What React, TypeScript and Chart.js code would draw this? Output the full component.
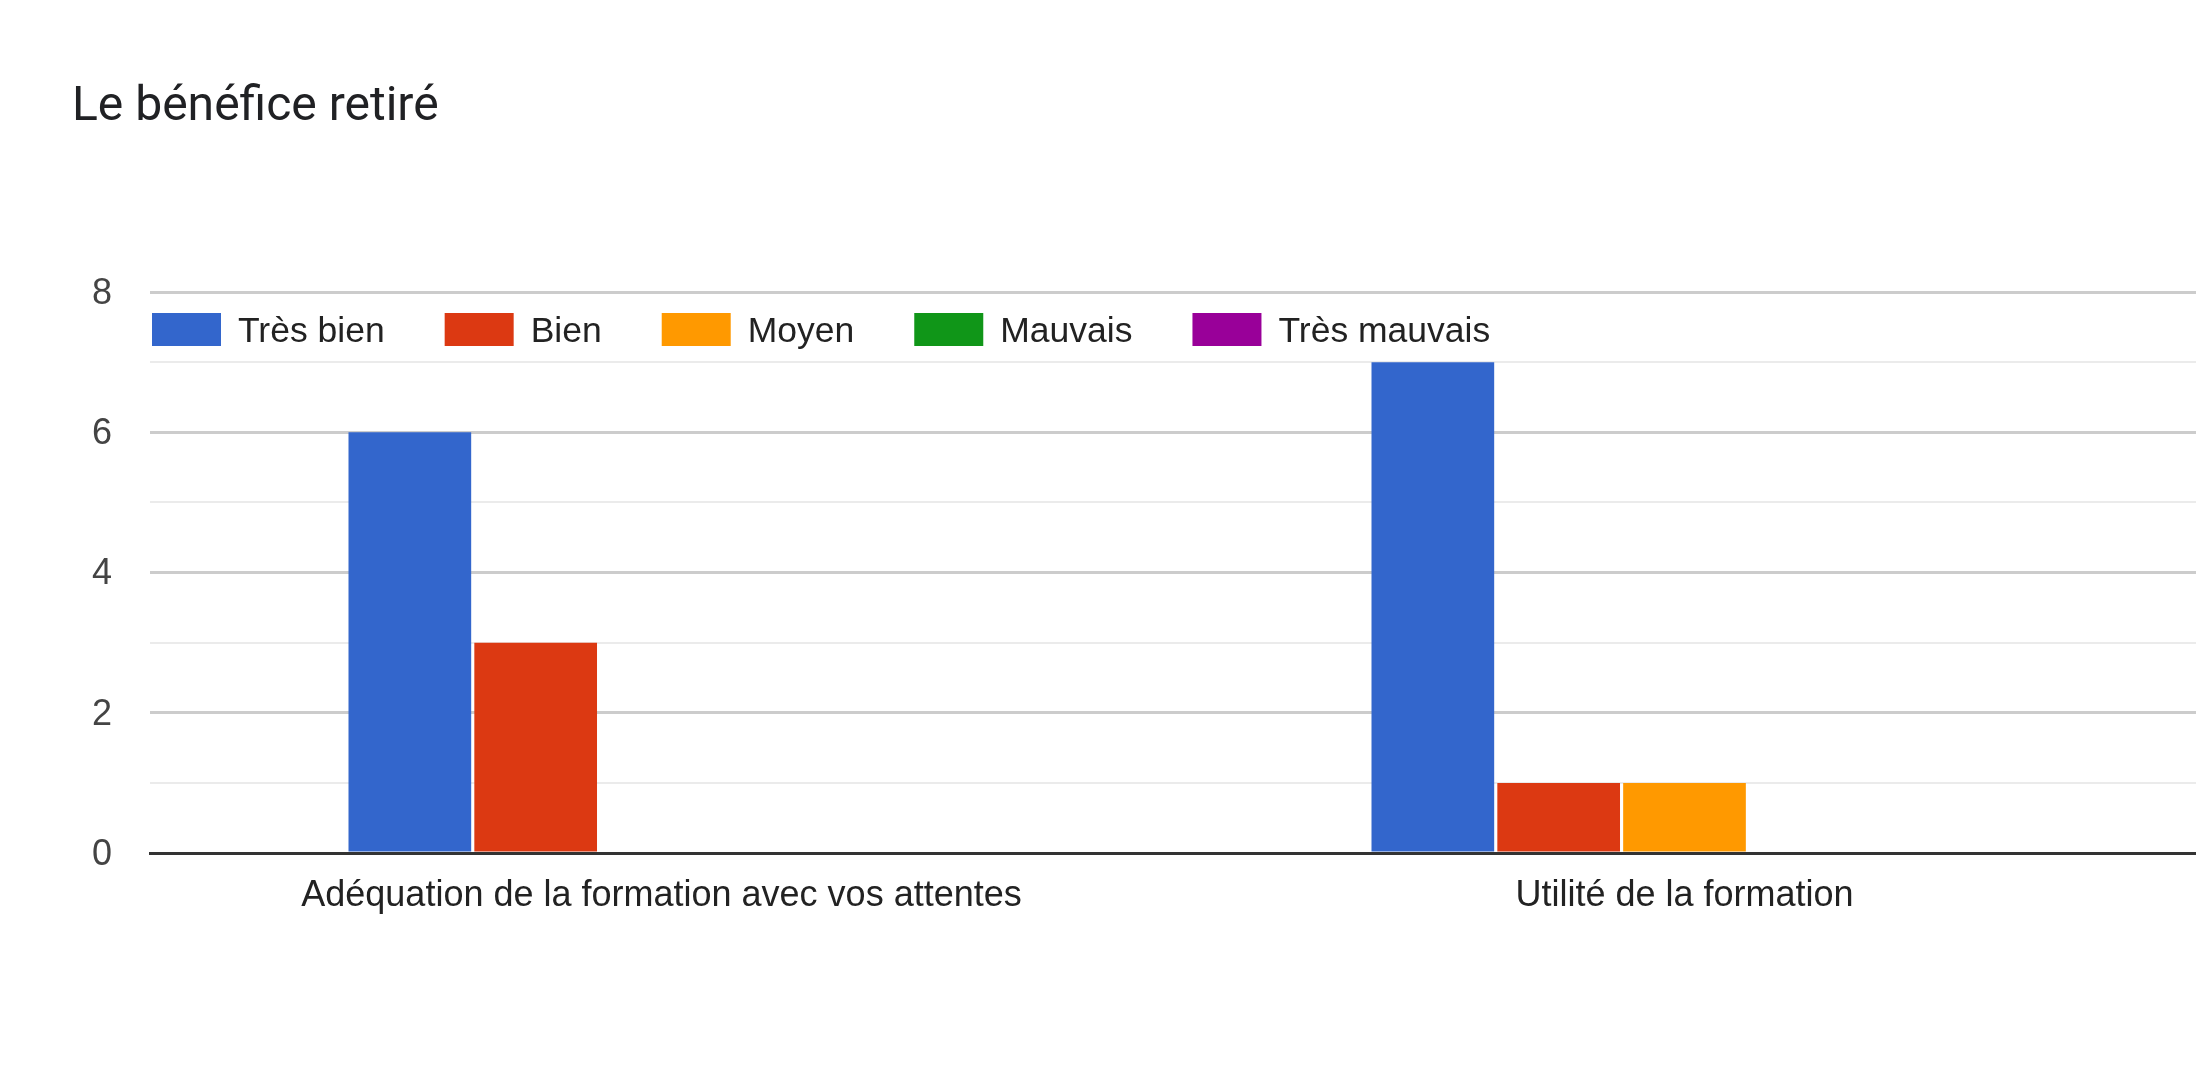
import React, { useEffect, useRef } from 'react';
import Chart from 'chart.js/auto';

// categories and answers (number of responses)
const categories = ['Adéquation de la formation avec vos attentes', 'Utilité de la formation'];
const seriesLabels = ['Très bien', 'Bien', 'Moyen', 'Mauvais', 'Très mauvais'];
const seriesColors = ['#3366cc', '#dc3912', '#ff9900', '#109618', '#990099'];
const tresBien = [6, 7];
const bien = [3, 1];
const moyen = [0, 1];
const mauvais = [0, 0];
const tresMauvais = [0, 0];
const yMax = 8;

const AXIS_FONT = '"Liberation Sans", Arial, sans-serif';

// legend drawn inside the plot, just under the top gridline
const insideLegend = {
  id: 'insideLegend',
  afterDraw(chart) {
    const { ctx, chartArea } = chart;
    ctx.save();
    ctx.font = '35.5px ' + AXIS_FONT;
    ctx.textBaseline = 'middle';
    ctx.textAlign = 'left';
    let x = chartArea.left + 2;
    const boxTop = chartArea.top + 21;
    chart.data.datasets.forEach((ds) => {
      ctx.fillStyle = ds.backgroundColor;
      ctx.fillRect(x, boxTop, 69, 33);
      ctx.fillStyle = '#222222';
      ctx.fillText(ds.label, x + 86, boxTop + 19);
      x += 86 + ctx.measureText(ds.label).width + 60;
    });
    ctx.restore();
  },
};

const App = () => {
  const chartRef = useRef(null);

  useEffect(() => {
    document.body.style.margin = '0';
    const canvas = chartRef.current;
    const values = [tresBien, bien, moyen, mauvais, tresMauvais];

    const data = {
      labels: categories,
      datasets: seriesLabels.map((label, i) => ({
        label,
        data: values[i],
        backgroundColor: seriesColors[i],
        borderWidth: 0,
        categoryPercentage: 0.615,
        barPercentage: 0.975,
      })),
    };

    const chart = new Chart(canvas, {
      type: 'bar',
      data,
      plugins: [insideLegend],
      options: {
        animation: false,
        responsive: true,
        maintainAspectRatio: false,
        devicePixelRatio: 1,
        layout: { padding: { left: 72, right: 0, top: 0, bottom: 0 } },
        plugins: {
          legend: { display: false },
          tooltip: { enabled: false },
          title: {
            display: true,
            text: 'Le bénéfice retiré',
            align: 'start',
            color: '#202124',
            font: { family: 'Roboto', size: 48, weight: 'normal' },
            padding: { top: 78.8, bottom: 155.6 },
          },
        },
        scales: {
          x: {
            grid: { display: false, drawTicks: false },
            border: { display: true, color: '#333333', width: 3 },
            ticks: {
              color: '#222222',
              padding: 21,
              font: { family: AXIS_FONT, size: 36 },
            },
            afterFit(scale) {
              scale.height = 221;
            },
          },
          y: {
            min: 0,
            max: yMax,
            border: { display: false },
            grid: {
              drawTicks: false,
              color: (c) => (c.tick.value === 0 ? '#333333' : c.tick.value % 2 === 0 ? '#cccccc' : '#ebebeb'),
              lineWidth: (c) => (c.tick.value % 2 === 0 ? 3 : 2),
            },
            ticks: {
              stepSize: 1,
              padding: 38,
              labelOffset: 2,
              color: '#444444',
              font: { family: AXIS_FONT, size: 36 },
              callback: (v) => (v % 2 === 0 ? String(v) : ''),
            },
            afterFit(scale) {
              scale.width = 78;
            },
          },
        },
      },
    });

    return () => {
      chart.destroy();
    };
  }, []);

  return (
    <div style={{ width: 2196, height: 1074, position: 'relative', background: '#ffffff' }}>
      <canvas ref={chartRef}></canvas>
    </div>
  );
};

export default App;
